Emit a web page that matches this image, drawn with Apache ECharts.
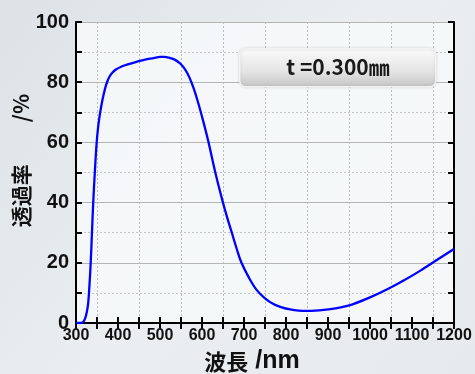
<!DOCTYPE html>
<html>
<head>
<meta charset="utf-8">
<script src="https://cdn.jsdelivr.net/npm/echarts@6/dist/echarts.min.js"></script>
<style>
  html, body { margin: 0; padding: 0; }
  #chart { width: 475px; height: 374px; }
</style>
</head>
<body>
<div id="chart"></div>
<script>
// 波長 (nm) と 透過率 (%)
var wavelength = [300, 310, 317, 322, 326, 329, 332, 335, 338, 341, 345, 349, 353, 357, 361, 365, 370, 375, 380, 387, 395, 410, 425, 440, 460, 476, 490, 500, 510, 520, 535, 548, 560, 570, 580, 590, 600, 615, 631, 648, 660, 671, 683, 694, 712, 730, 750, 770, 790, 810, 830, 850, 870, 890, 910, 930, 960, 1000, 1040, 1080, 1120, 1160, 1200];
var transmittance = [0, 0, 0.3, 1.6, 3.8, 6.6, 12.5, 20, 30, 40, 50.5, 59.5, 65.5, 69.5, 72.7, 75.4, 78.3, 80.4, 81.9, 83.2, 84.2, 85.3, 86.0, 86.6, 87.3, 87.8, 88.2, 88.4, 88.4, 88.2, 87.5, 86.2, 84.2, 81.6, 78.0, 73.6, 68.6, 60.4, 50.4, 41, 35, 30, 24.5, 20, 15, 11, 8.2, 6.3, 5.2, 4.5, 4.1, 4, 4.1, 4.35, 4.7, 5.2, 6.3, 8.5, 11.1, 14.1, 17.4, 21.0, 24.6];
var xMin = 300, xMax = 1200, xStep = 100;
var yMin = 0, yMax = 100, yStep = 20;

var pairs = wavelength.map(function (w, i) { return [w, transmittance[i]]; });

var myChart = echarts.init(document.getElementById("chart"));
var font = "'Liberation Sans', Arial, sans-serif";
var cjk = "'Noto Sans CJK JP', sans-serif";
var tickStyle = { color: "#000", width: 2 };

var option = {
  backgroundColor: {
    type: "linear", x: 0, y: 0, x2: 1, y2: 1,
    colorStops: [
      { offset: 0, color: "#dce2e6" },
      { offset: 0.5, color: "#eaeef0" },
      { offset: 1, color: "#e6eaec" }
    ]
  },
  animation: false,
  grid: {
    left: 76, right: 21, top: 22, bottom: 51,
    outerBoundsMode: "none", containLabel: false,
    show: true, backgroundColor: "rgba(247,249,250,0.85)", borderWidth: 0
  },
  xAxis: [
    {
      type: "value", position: "bottom",
      min: xMin, max: xMax, interval: xStep,
      name: "{a|波長}{b| /nm}", nameLocation: "middle", nameGap: 24,
      nameTextStyle: {
        color: "#111", padding: [0, 26, 0, 0],
        rich: {
          a: { fontSize: 22, fontWeight: "bold", color: "#111", fontFamily: cjk },
          b: { fontSize: 25, fontWeight: "bold", color: "#111", fontFamily: font }
        }
      },
      axisLine: { lineStyle: { color: "#000", width: 2 } },
      axisTick: { inside: true, length: 6, lineStyle: tickStyle },
      minorTick: { show: true, splitNumber: 2, length: 6, lineStyle: tickStyle },
      axisLabel: {
        fontSize: 16, fontWeight: "bold", color: "#111", fontFamily: font, margin: 5,
        formatter: function (v) { return String(v); }
      },
      splitLine: { show: false },
      minorSplitLine: { show: true, lineStyle: { color: "#bcbcbc", type: [2, 2], width: 1 } }
    },
    {
      type: "value", position: "top",
      min: xMin, max: xMax, interval: xStep,
      axisLine: { lineStyle: { color: "#000", width: 2 } },
      axisTick: { inside: true, length: 6, lineStyle: tickStyle },
      minorTick: { show: true, splitNumber: 2, length: 6, lineStyle: tickStyle },
      axisLabel: { show: false },
      splitLine: { show: false }
    }
  ],
  yAxis: [
    {
      type: "value", position: "left",
      min: yMin, max: yMax, interval: yStep,
      name: "透過率　　/%", nameLocation: "middle", nameGap: 44, nameRotate: 90,
      nameMoveOverlap: false,
      nameTextStyle: { fontSize: 21, fontWeight: "bold", color: "#111", fontFamily: cjk, padding: [0, 0, 0, 24] },
      axisLine: { lineStyle: { color: "#000", width: 2 } },
      axisTick: { inside: true, length: 6, lineStyle: tickStyle },
      minorTick: { show: true, splitNumber: 2, length: 6, lineStyle: tickStyle },
      axisLabel: { fontSize: 20, fontWeight: "bold", color: "#111", fontFamily: font, margin: 7 },
      splitLine: { show: true, lineStyle: { color: "#b4b4b4", width: 1 } },
      minorSplitLine: { show: true, lineStyle: { color: "#c4c4c4", type: [2, 2], width: 1 } }
    },
    {
      type: "value", position: "right",
      min: yMin, max: yMax, interval: yStep,
      axisLine: { lineStyle: { color: "#000", width: 2 } },
      axisTick: { inside: true, length: 6, lineStyle: tickStyle },
      minorTick: { show: true, splitNumber: 2, length: 6, lineStyle: tickStyle },
      axisLabel: { show: false },
      splitLine: { show: false }
    }
  ],
  graphic: [
    {
      type: "rect", left: 239, top: 48, z: 100,
      shape: { width: 196, height: 38, r: 6 },
      style: {
        fill: {
          type: "linear", x: 0, y: 0, x2: 0, y2: 1,
          colorStops: [
            { offset: 0, color: "#fbfbfb" },
            { offset: 0.6, color: "#e4e4e4" },
            { offset: 1, color: "#c4c4c4" }
          ]
        },
        stroke: "#f2f2f2", lineWidth: 1.5,
        shadowColor: "rgba(0,0,0,0.12)", shadowBlur: 3
      }
    },
    {
      type: "text", x: 338, y: 67, z: 101,
      style: {
        text: "t =0.300㎜", fill: "#1a1a1a",
        font: "bold 21px 'Noto Sans CJK JP', sans-serif",
        textAlign: "center", textVerticalAlign: "middle"
      }
    }
  ],
  series: [
    {
      type: "line",
      data: pairs,
      smooth: 0.35,
      showSymbol: false,
      lineStyle: { color: "#0000ff", width: 2.3 },
      z: 5
    }
  ]
};
myChart.setOption(option);
</script>
</body>
</html>
